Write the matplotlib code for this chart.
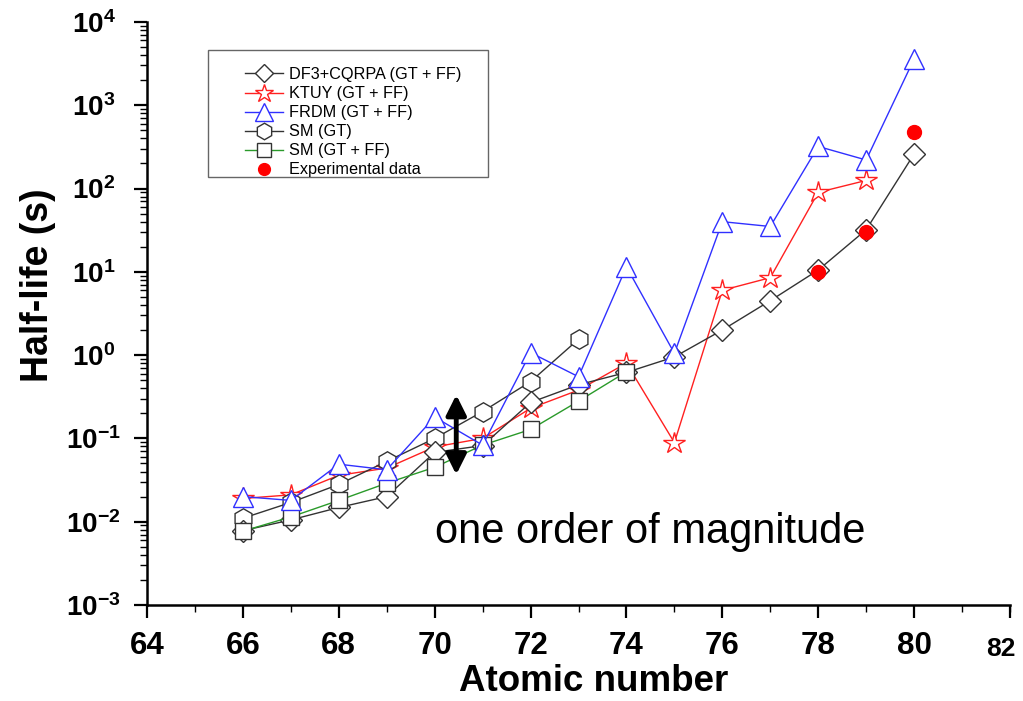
"""Beta-decay half-lives vs atomic number: model comparison on a log axis."""
import math

import matplotlib

matplotlib.use("Agg")

import matplotlib.pyplot as plt  # noqa: E402
from matplotlib.patches import Rectangle, FancyArrowPatch  # noqa: E402
from matplotlib.ticker import (LogLocator, MultipleLocator, NullFormatter,  # noqa: E402
                               FuncFormatter)
import matplotlib.transforms as mtransforms  # noqa: E402

plt.rcParams["font.family"] = ["Liberation Sans", "DejaVu Sans"]
plt.rcParams["mathtext.fontset"] = "custom"
plt.rcParams["mathtext.bf"] = "Liberation Sans:bold"
plt.rcParams["mathtext.rm"] = "Liberation Sans:bold"

# ---- data ----------------------------------------------------------------
z_df3 = [66, 67, 68, 69, 70, 71, 72, 73, 74, 75, 76, 77, 78, 79, 80]
t_df3 = [0.0078, 0.0105, 0.0148, 0.020, 0.068, 0.082, 0.27, 0.44, 0.62,
         0.95, 2.0, 4.5, 10.5, 32, 260]

z_ktuy = [66, 67, 68, 69, 70, 71, 72, 73, 74, 75, 76, 77, 78, 79]
t_ktuy = [0.019, 0.021, 0.036, 0.044, 0.079, 0.10, 0.23, 0.38, 0.80,
          0.089, 6.0, 8.5, 90, 125]

z_frdm = [66, 67, 68, 69, 70, 71, 72, 73, 74, 75, 76, 77, 78, 79, 80]
t_frdm = [0.020, 0.018, 0.049, 0.042, 0.18, 0.083, 1.07, 0.55, 11.5,
          1.05, 40, 35, 320, 220, 3600]

z_sm_gt = [66, 67, 68, 69, 70, 71, 72, 73]
t_sm_gt = [0.011, 0.017, 0.028, 0.053, 0.10, 0.21, 0.48, 1.55]

z_sm_ff = [66, 67, 68, 69, 70, 71, 72, 73, 74]
t_sm_ff = [0.0077, 0.0114, 0.018, 0.029, 0.045, 0.083, 0.128, 0.28, 0.63]

z_exp = [78, 79, 80]
t_exp = [10.0, 30, 480]

y_decades = [1e-3, 1e-2, 1e-1, 1e0, 1e1, 1e2, 1e3, 1e4]

# ---- figure ---------------------------------------------------------------
fig = plt.figure(figsize=(10.23, 7.01), dpi=100)
ax = fig.add_axes([0.1437, 0.137, 0.8436, 0.8317])

ax.plot(z_df3, t_df3, color="#333333", lw=1.0, marker="D", ms=11,
        mfc="white", mec="#333333", mew=1.0, label="DF3+CQRPA (GT + FF)",
        zorder=4)
ax.plot(z_ktuy, t_ktuy, color="#ff2020", lw=1.0, marker="*", ms=16,
        mfc="white", mec="#ff2020", mew=1.0, label="KTUY (GT + FF)", zorder=3)
ax.plot(z_frdm, t_frdm, color="#3030ff", lw=1.0, marker="^", ms=15,
        mfc="white", mec="#3030ff", mew=1.0, label="FRDM (GT + FF)", zorder=5)
ax.plot(z_sm_gt, t_sm_gt, color="#333333", lw=1.0, marker="h", ms=14,
        mfc="white", mec="#333333", mew=1.0, label="SM (GT)", zorder=3)
ax.plot(z_sm_ff, t_sm_ff, color="#2a9a2a", lw=1.0, marker="s", ms=12,
        mfc="white", mec="#333333", mew=1.0, label="SM (GT + FF)", zorder=4)
ax.plot(z_exp, t_exp, ls="none", marker="o", ms=10, color="#ff0000",
        label="Experimental data", zorder=6)

ax.set_yscale("log")
ax.set_xlim(64, 82)
ax.set_ylim(1e-3, 1e4)
ax.set_xticks(range(64, 82, 2))
ax.xaxis.set_minor_locator(MultipleLocator(1))
ax.set_yticks(y_decades)
ax.yaxis.set_minor_locator(LogLocator(base=10, subs=range(2, 10), numticks=20))
ax.yaxis.set_minor_formatter(NullFormatter())
ax.yaxis.set_major_formatter(FuncFormatter(
    lambda v, _: r"$\mathbf{10^{%d}}$" % round(math.log10(v))))

for sp in ("top", "right"):
    ax.spines[sp].set_visible(False)
for sp in ("left", "bottom"):
    ax.spines[sp].set_linewidth(1.8)

ax.tick_params(axis="both", which="major", direction="out", length=9.5,
               width=1.6)
ax.tick_params(axis="both", which="minor", direction="out", length=5,
               width=1.0)
ax.tick_params(axis="x", which="major", pad=9, labelsize=22.5)
ax.tick_params(axis="y", which="major", pad=29, labelsize=20)
plt.setp(ax.get_xticklabels(), fontweight="bold")
plt.setp(ax.get_yticklabels(), ha="center")

# the last x tick (82) sits lower and smaller in the original
xtrans = mtransforms.blended_transform_factory(ax.transData, ax.transAxes)
ax.plot([82, 82], [0, -0.0225], color="black", lw=1.6, transform=xtrans,
        clip_on=False, solid_capstyle="butt")
ax.text(81.8, -0.0755, "82", transform=xtrans, ha="center", va="center",
        fontsize=19, fontweight="bold")

ax.set_xlabel("Atomic number", fontsize=26.5, fontweight="bold",
              va="center")
ax.xaxis.set_label_coords(0.517, -0.131)
ax.set_ylabel("Half-life (s)", fontsize=27, fontweight="bold", va="center")
ax.yaxis.set_label_coords(-0.126, 0.549)

# "one order of magnitude" double arrow + note
arrow = FancyArrowPatch((70.45, 0.034), (70.45, 0.36),
                        arrowstyle="<|-|>", mutation_scale=30, lw=3.5,
                        color="black", zorder=8)
ax.add_patch(arrow)
ax.text(74.5, 0.0075, "one order of magnitude", fontsize=30,
        fontweight="normal", ha="center", va="center")

# legend: frame drawn separately so the padding matches the original
leg = ax.legend(loc="upper left", bbox_to_anchor=(0.1007, 0.942),
                frameon=False, fontsize=11.7, handlelength=2.3,
                handletextpad=0.4, labelspacing=0.25, borderpad=0.2,
                markerscale=0.85)
ax.add_patch(Rectangle((0.0707, 0.734), 0.324, 0.218,
                       transform=ax.transAxes, fill=False,
                       edgecolor="#666666", lw=1.0))

fig.savefig("out.png", dpi=100, facecolor="white")
